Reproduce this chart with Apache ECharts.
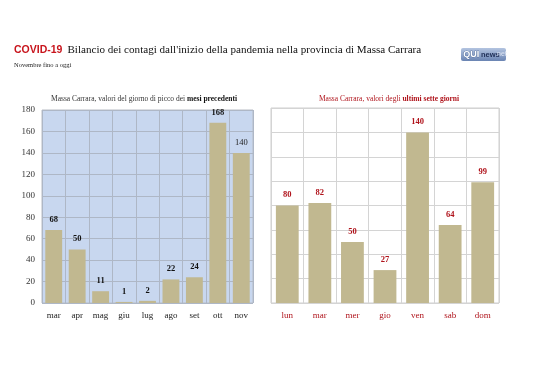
<!DOCTYPE html>
<html><head><meta charset="utf-8">
<script src="https://cdn.jsdelivr.net/npm/echarts@6/dist/echarts.min.js"></script>
<style>html,body{margin:0;padding:0;background:#fff}#c{width:538px;height:380px}</style>
</head><body><div id="c"></div>
<script>
const monthCats = ['mar','apr','mag','giu','lug','ago','set','ott','nov'];
const monthVals = [68,50,11,1,2,22,24,168,140];
const dayCats = ['lun','mar','mer','gio','ven','sab','dom'];
const dayVals = [80,82,50,27,140,64,99];
const leftTicks = {min:0,max:180,interval:20};
const rightTicks = {min:0,max:160,interval:20};

const serif = '"Liberation Serif","DejaVu Serif",serif';
const barColor = '#c1b890';
const red = '#b0141c';
const chart = echarts.init(document.getElementById('c'));
chart.setOption({
  animation:false,
  backgroundColor:'#fff',
  title:[
    {left:14,top:43,padding:0,text:'{a|COVID-19} {b|Bilancio dei contagi dall\'inizio della pandemia nella provincia di Massa Carrara}',
     textStyle:{fontWeight:'normal',lineHeight:14,rich:{a:{fontFamily:'"Liberation Sans",Arial,sans-serif',fontWeight:'bold',fontSize:10.5,color:'#c8141c',lineHeight:14},
                      b:{fontFamily:serif,fontWeight:'normal',fontSize:11.1,color:'#111',lineHeight:14}}},
     subtext:'Novembre fino a oggi',itemGap:1,
     subtextStyle:{fontFamily:serif,fontSize:6.5,color:'#222'}},
    {left:139,top:90,textAlign:'center',text:'{n|Massa Carrara, valori del giorno di picco dei }{b|mesi precedenti}',
     textStyle:{fontWeight:'normal',rich:{n:{fontFamily:serif,fontSize:7.5,fontWeight:'normal',color:'#333'},b:{fontFamily:serif,fontSize:7.5,fontWeight:'bold',color:'#111'}}}},
    {left:384,top:90,textAlign:'center',text:'{n|Massa Carrara, valori degli }{b|ultimi sette giorni}',
     textStyle:{fontWeight:'normal',rich:{n:{fontFamily:serif,fontSize:7.5,fontWeight:'normal',color:red},b:{fontFamily:serif,fontSize:7.5,fontWeight:'bold',color:red}}}}
  ],
  graphic:[
    {type:'rect',left:461,top:48,shape:{width:45,height:13,r:2},
     style:{fill:new echarts.graphic.LinearGradient(0,0,0,1,[{offset:0,color:'#b3c4e0'},{offset:1,color:'#6a84b3'}])}},
    {type:'text',left:463,top:50,z:10,style:{text:'QUI',fill:'#fff',stroke:'#3d5a8c',lineWidth:0.6,font:'bold 9px "Liberation Sans",Arial,sans-serif'}},
    {type:'text',left:481,top:51,z:10,style:{text:'news',fill:'#1d2d55',font:'bold 7.5px "Liberation Sans",Arial,sans-serif'}},
    {type:'text',left:497,top:51,z:10,style:{text:'net',fill:'#dde4f2',font:'7px "Liberation Sans",Arial,sans-serif'}}
  ],
  grid:[
    {left:42,top:110,width:211,height:193,show:true,backgroundColor:'#c8d7ef',borderColor:'#b8bcc4',borderWidth:1},
    {left:271,top:108,width:228,height:195,show:true,backgroundColor:'#fff',borderColor:'#cfcfcf',borderWidth:1}
  ],
  xAxis:[
    {type:'category',gridIndex:0,data:monthCats,axisTick:{show:false},axisLine:{show:false},
     splitLine:{show:true,lineStyle:{color:'#aeb7c6'}},
     axisLabel:{fontFamily:serif,fontSize:9,color:'#222',margin:8}},
    {type:'category',gridIndex:1,data:dayCats,axisTick:{show:false},axisLine:{show:false},
     splitLine:{show:true,lineStyle:{color:'#d4d4d4'}},
     axisLabel:{fontFamily:serif,fontSize:9,color:red,margin:8}}
  ],
  yAxis:[
    {type:'value',gridIndex:0,min:leftTicks.min,max:leftTicks.max,interval:leftTicks.interval,
     axisLine:{show:false},axisTick:{show:false},splitLine:{lineStyle:{color:'#aeb7c6'}},
     axisLabel:{fontFamily:serif,fontSize:9,color:'#333',margin:7}},
    {type:'value',gridIndex:1,min:rightTicks.min,max:rightTicks.max,interval:rightTicks.interval,
     axisLine:{show:false},axisTick:{show:false},splitLine:{lineStyle:{color:'#d4d4d4'}},
     axisLabel:{show:false}}
  ],
  series:[
    {type:'bar',xAxisIndex:0,yAxisIndex:0,data:monthVals,barWidth:'72%',
     itemStyle:{color:barColor},
     label:{show:true,position:'top',distance:6,fontFamily:serif,fontSize:8.5,fontWeight:'bold',color:'#111',
       formatter:p=>p.dataIndex===8?'{n|'+p.value+'}':p.value,rich:{n:{fontFamily:serif,fontSize:8.5,fontWeight:'normal',color:'#222'}}}},
    {type:'bar',xAxisIndex:1,yAxisIndex:1,data:dayVals,barWidth:'70%',
     itemStyle:{color:barColor},
     label:{show:true,position:'top',distance:6,fontFamily:serif,fontSize:8.5,fontWeight:'bold',color:red}}
  ]
});
</script></body></html>
